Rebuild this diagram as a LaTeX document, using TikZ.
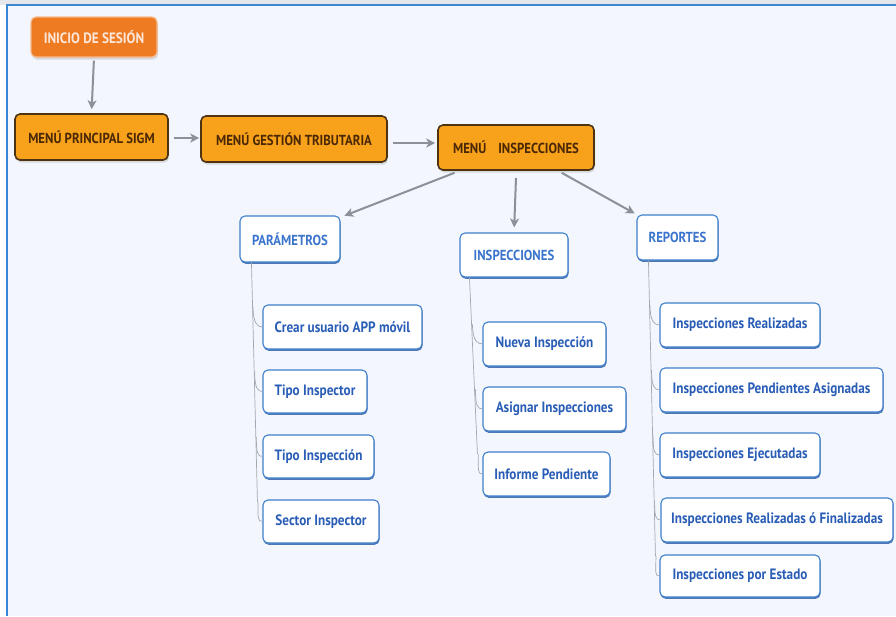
\documentclass[tikz,border=0pt]{standalone}
\usepackage{fontspec}
\setmainfont{PT Sans}[FakeStretch=0.88]
\usetikzlibrary{arrows.meta,shadows,calc}
\definecolor{paper}{HTML}{F3F6FD}
\definecolor{framec}{HTML}{3A85D4}
\definecolor{topgray}{HTML}{E6E7EA}
\definecolor{menufill}{HTML}{F8A11A}
\definecolor{menuedge}{HTML}{4E3310}
\definecolor{menutext}{HTML}{4A2806}
\definecolor{startfill}{HTML}{EE7B22}
\definecolor{startedge}{HTML}{F6B98A}
\definecolor{starttext}{HTML}{FCE7DA}
\definecolor{itemedge}{HTML}{3F7FCB}
\definecolor{itemshadow}{HTML}{2F63AA}
\definecolor{itemtext}{HTML}{2A5DB6}
\definecolor{headtext}{HTML}{3B74CC}
\definecolor{arrowc}{HTML}{8B9099}
\definecolor{treec}{HTML}{A3A7AE}
\tikzset{
  menubox/.style={draw=menuedge, fill=menufill, line width=1.6pt, rounded corners=5pt,
    text=menutext, font=\bfseries\fontsize{14.5}{16}\selectfont, inner sep=2pt,
    drop shadow={opacity=0.25, shadow xshift=1pt, shadow yshift=-2.5pt}},
  startbox/.style={draw=startedge, fill=startfill, line width=1.2pt, rounded corners=5pt,
    text=starttext, font=\bfseries\fontsize{15}{16}\selectfont, inner sep=2pt,
    drop shadow={opacity=0.25, shadow xshift=1pt, shadow yshift=-2.5pt}},
  headbox/.style={draw=itemedge, fill=white, line width=1.1pt, rounded corners=5pt,
    text=headtext, font=\bfseries\fontsize{14.5}{16}\selectfont, inner sep=2pt,
    drop shadow={fill=itemshadow, opacity=0.85, shadow xshift=0.6pt, shadow yshift=-1.8pt}},
  itembox/.style={draw=itemedge, fill=white, line width=1.1pt, rounded corners=5pt,
    text=itemtext, font=\bfseries\fontsize{15}{16}\selectfont, inner sep=2pt,
    drop shadow={fill=itemshadow, opacity=0.85, shadow xshift=0.6pt, shadow yshift=-1.8pt}},
  flow/.style={draw=arrowc, line width=2pt,
    -{Stealth[length=9pt,width=9pt,inset=2.5pt]}},
  tree/.style={draw=treec, line width=0.7pt},
}
\begin{document}
\begin{tikzpicture}[x=1pt,y=-1pt]
\useasboundingbox (0,0) rectangle (896,616);
% page background and frame
\fill[white] (0,0) rectangle (896,616);
\fill[topgray] (0,0) rectangle (896,5);
\fill[paper] (7,5) rectangle (896,616);
\draw[framec, line width=1.5pt] (7,616) -- (7,5) -- (896,5);

% main menu chain
\node[startbox, minimum width=126, minimum height=40] (ini) at (94,37) {INICIO DE SESIÓN};
\node[menubox, minimum width=153, minimum height=46] (mps) at (91.5,137) {MENÚ PRINCIPAL SIGM};
\node[menubox, minimum width=186, minimum height=46] (mgt) at (294,139) {MENÚ GESTIÓN TRIBUTARIA};
\node[menubox, minimum width=156, minimum height=45] (mi) at (516,147.5) {MENÚ\hspace{12pt}INSPECCIONES};

% sections
\node[headbox, minimum width=100, minimum height=46] (par) at (290,239) {PARÁMETROS};
\node[headbox, minimum width=108, minimum height=44] (ins) at (514,255) {INSPECCIONES};
\node[headbox, minimum width=81, minimum height=45] (rep) at (677.5,237.5) {REPORTES};

% PARÁMETROS items
\node[itembox, minimum width=159, minimum height=44] (p1) at (342.5,327) {Crear usuario APP móvil};
\node[itembox, minimum width=104, minimum height=43] (p2) at (315,391.5) {Tipo Inspector};
\node[itembox, minimum width=111, minimum height=43] (p3) at (318.5,456.5) {Tipo Inspección};
\node[itembox, minimum width=116, minimum height=43] (p4) at (321,521.5) {Sector Inspector};

% INSPECCIONES items
\node[itembox, minimum width=123, minimum height=44] (i1) at (544.5,344) {Nueva Inspección};
\node[itembox, minimum width=143, minimum height=44] (i2) at (554.5,409) {Asignar Inspecciones};
\node[itembox, minimum width=127, minimum height=44] (i3) at (546.5,474) {Informe Pendiente};

% REPORTES items
\node[itembox, minimum width=160, minimum height=44] (r1) at (740,325) {Inspecciones Realizadas};
\node[itembox, minimum width=223, minimum height=44] (r2) at (771.5,390) {Inspecciones Pendientes Asignadas};
\node[itembox, minimum width=160, minimum height=44] (r3) at (740,455) {Inspecciones Ejecutadas};
\node[itembox, minimum width=232, minimum height=44] (r4) at (777,520) {Inspecciones Realizadas ó Finalizadas};
\node[itembox, minimum width=160, minimum height=42] (r5) at (740,576) {Inspecciones por Estado};

% arrows along the menu chain
\draw[flow, shorten <=3pt, shorten >=4pt] (ini.south) -- (mps.north);
\coordinate (g0) at ($(mps.east)+(5,1)$);
\draw[flow, shorten >=1pt] (g0) -- (g0 -| mgt.west);
\coordinate (g1) at ($(mgt.east)+(5,4)$);
\draw[flow, shorten >=2pt] (g1) -- (g1 -| mi.west);

% arrows to the sections
\draw[flow, shorten >=2pt] ($(mi.south west)!0.11!(mi.south east)+(0,2)$) -- ($(par.north east)+(2,1)$);
\draw[flow, shorten >=5pt] ($(mi.south)+(0,7)$) -- (ins.north);
\draw[flow, shorten >=2pt] ($(mi.south west)!0.79!(mi.south east)+(0,2)$) -- (rep.north west);

% tree lines: PARÁMETROS
\coordinate (pa0) at ($(par.south west)+(12,0)$);
\coordinate (pa1) at ($(p4.west)+(-5,-20)$);
\draw[tree] (pa0) -- (pa1);
\foreach \c in {p1,p2,p3,p4}{
  \draw[tree] ($(pa0)!(\c.west)!(pa1)+(0,-20)$) .. controls ($(pa0)!(\c.west)!(pa1)+(0,-4)$) and ($(\c.west)+(-5,0)$) .. (\c.west);
}
% tree lines: INSPECCIONES
\coordinate (ia0) at ($(ins.south west)+(10,0)$);
\coordinate (ia1) at ($(i3.west)+(-5,-20)$);
\draw[tree] (ia0) -- (ia1);
\foreach \c in {i1,i2,i3}{
  \draw[tree] ($(ia0)!(\c.west)!(ia1)+(0,-20)$) .. controls ($(ia0)!(\c.west)!(ia1)+(0,-4)$) and ($(\c.west)+(-5,0)$) .. (\c.west);
}
% tree lines: REPORTES
\coordinate (ra0) at ($(rep.south west)+(12,0)$);
\coordinate (ra1) at ($(r5.west)+(-4,-20)$);
\draw[tree] (ra0) -- (ra1);
\foreach \c in {r1,r2,r3,r4,r5}{
  \draw[tree] ($(ra0)!(\c.west)!(ra1)+(0,-20)$) .. controls ($(ra0)!(\c.west)!(ra1)+(0,-4)$) and ($(\c.west)+(-5,0)$) .. (\c.west);
}
\end{tikzpicture}
\end{document}
